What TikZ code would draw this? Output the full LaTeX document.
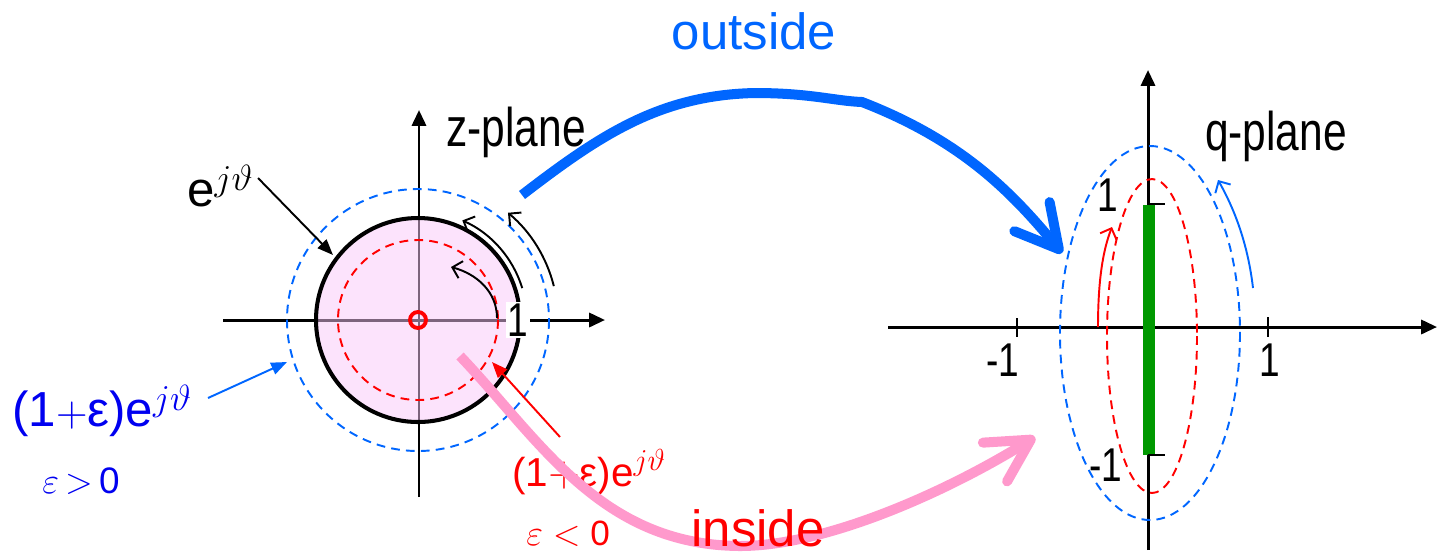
\documentclass[tikz,border=0pt]{standalone}
\usepackage{fontspec}
\setmainfont{Liberation Sans}
\usepackage{graphicx}
\usepackage{tikz}
\usetikzlibrary{arrows.meta}
\definecolor{zblue}{HTML}{0066FF}
\definecolor{lblue}{HTML}{0000F0}
\definecolor{zred}{HTML}{FF0000}
\definecolor{zpink}{HTML}{FF99CC}
\definecolor{zgreen}{HTML}{009900}
\definecolor{disk}{RGB}{250,200,250}
\newcommand{\narrow}[1]{\scalebox{0.78}[1]{#1}}

\begin{document}
\begin{tikzpicture}[x=0.02cm, y=-0.02cm,
  zaxis/.style={line width=1.7pt, -{Triangle[length=9pt,width=8pt]}},
  tickmark/.style={line width=1.3pt},
  dashblue/.style={draw=zblue, line width=1.1pt, dash pattern=on 5pt off 3.5pt},
  dashred/.style={draw=zred, line width=1.1pt, dash pattern=on 5pt off 3.5pt},
  spin/.style={line width=1.1pt, -{Straight Barb[length=5pt,width=10pt]}},
  pointer/.style={line width=1.1pt, -{Triangle[length=9pt,width=7pt]}},
  bigarrow/.style={line width=5.7pt, -{Straight Barb[length=24pt,width=26pt,round]}},
  lbl/.style={inner sep=0pt, anchor=base},
  numlbl/.style={inner sep=0pt, anchor=base, font=\fontsize{27}{27}\selectfont}]
\useasboundingbox (0,0) rectangle (1437,556);
\coordinate (zO) at (418,320);
\coordinate (qO) at (1148,327);

% z-plane
\draw[zaxis] (223,320) -- (605,320);
\draw[zaxis] (419,497) -- (419,110);
\fill[disk, fill opacity=0.5] (zO) circle[radius=102];
\draw[line width=2.3pt] (zO) circle[radius=102];
\draw[dashred] (zO) circle[radius=80];
\draw[dashblue] (zO) circle[radius=131];
\draw[zred, line width=2.2pt] (zO) circle[radius=8];
\node[inner sep=1pt, fill=white, font=\fontsize{27}{27}\selectfont] (zone) at (518,320) {\narrow{1}};
\draw[spin] (497,318) .. controls (497,292) and (477,274) .. (451,267);
\draw[spin] (zO) ++(-17:109) arc[start angle=-17, end angle=-66, radius=109];
\draw[spin] (zO) ++(-14:140) arc[start angle=-14, end angle=-50, radius=140];
\node[lbl, font=\fontsize{31}{31}\selectfont] (zpl) at (516,146) {\narrow{z-plane}};

% labels of the circles
\node[lbl, anchor=base west, font=\fontsize{28}{28}\selectfont] (ejt) at (187,206) {e$^{j\vartheta}$};
\coordinate (ejtS) at (258,178);
\draw[pointer] (ejtS) -- (333,255);
\node[lbl, anchor=base west, text=lblue, font=\fontsize{28}{28}\selectfont] (bl) at (12,426) {(1$+$ε)e$^{j\vartheta}$};
\coordinate (blS) at (208,398);
\draw[pointer, zblue] (blS) -- (287,362);
\node[lbl, anchor=base west, text=lblue, font=\fontsize{21}{21}\selectfont] (bgt) at (42,493) {$\varepsilon$\,$>$\,0};
\node[lbl, anchor=base west, text=zred, font=\fontsize{23}{23}\selectfont] (rl) at (512,486) {(1$+$ε)e$^{j\vartheta}$};
\coordinate (rlS) at (560,437);
\draw[pointer, zred] (rlS) -- (492,362);
\node[lbl, anchor=base west, text=zred, font=\fontsize{20}{20}\selectfont] (rlt) at (526,545) {$\varepsilon$\;$<$\;0};

% q-plane
\draw[zaxis] (888,327) -- (1437,327);
\draw[zaxis] (1148,550) -- (1148,70);
\draw[tickmark] (1017,318) -- (1017,337);
\draw[tickmark] (1268,317) -- (1268,337);
\draw[dashblue] (1150,333) ellipse[x radius=90, y radius=187];
\draw[dashred] (1152,336) ellipse[x radius=45, y radius=157];
\draw[zgreen, line width=6.8pt] (1149,205) -- (1149,455);
\draw[tickmark] (1148,204) -- (1165,204);
\draw[tickmark] (1148,455) -- (1165,455);
\draw[zred, spin] (1098,327) .. controls (1098,280) and (1103,250) .. (1112,227);
\draw[zblue, spin] (1253,288) .. controls (1248,245) and (1235,210) .. (1218,180);
\node[numlbl] (qm1) at (1003,376) {\narrow{-1}};
\node[numlbl] (qp1) at (1270,376) {\narrow{1}};
\node[numlbl] (qi1) at (1108,211) {\narrow{1}};
\node[numlbl] (qmi1) at (1106,481) {\narrow{-1}};
\node[lbl, font=\fontsize{31}{31}\selectfont] (qpl) at (1276,150) {\narrow{q-plane}};

% mappings
\coordinate (outS) at (522,195);
\coordinate (outE) at (1062,253);
\draw[bigarrow, zblue] (outS) .. controls (600,135) and (660,95) .. (755,93)
  .. controls (810,93) and (835,101) .. (862,102)
  .. controls (960,140) and (1010,190) .. (outE);
\node[lbl, text=zblue, font=\fontsize{29}{30}\selectfont] (outlbl) at (754,49) {outside};
\coordinate (inS) at (460,356);
\coordinate (inE) at (1035,437);
\draw[bigarrow, zpink] (inS) .. controls (540,440) and (600,545) .. (740,546)
  .. controls (830,546) and (955,487) .. (inE);
\node[lbl, text=zred, font=\fontsize{29}{30}\selectfont] (inlbl) at (758,546) {inside};
\end{tikzpicture}
\end{document}
